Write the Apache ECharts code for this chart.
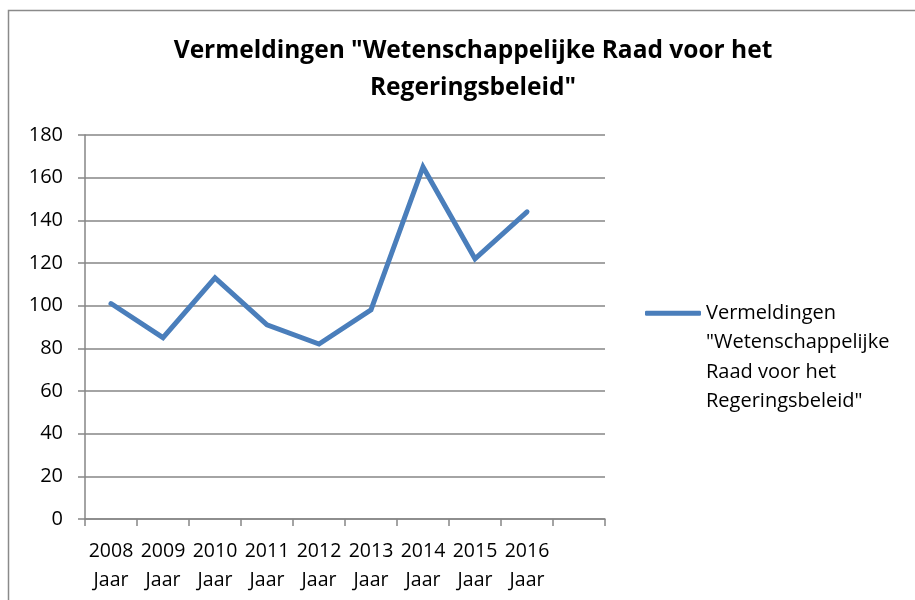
<!DOCTYPE html>
<html>
<head>
<meta charset="utf-8">
<script src="https://cdn.jsdelivr.net/npm/echarts@6/dist/echarts.min.js"></script>
<style>
  html, body { margin: 0; padding: 0; background: #fff; }
  #main { width: 915px; height: 600px; }
</style>
</head>
<body>
<div id="main"></div>
<script>
    var years = ['2008', '2009', '2010', '2011', '2012', '2013', '2014', '2015', '2016', ''];
    var vermeldingen = [101, 85, 113, 91, 82, 98, 165, 122, 144];
    var yTicks = { min: 0, max: 180, interval: 20 };
    var seriesName = 'Vermeldingen "Wetenschappelijke Raad voor het Regeringsbeleid"';

    var chart = echarts.init(document.getElementById('main'));
    var font = '"Open Sans", "Noto Sans", sans-serif';

    var option = {
        backgroundColor: '#fff',
        textStyle: { fontFamily: font },
        title: {
            text: 'Vermeldingen "Wetenschappelijke Raad voor het\nRegeringsbeleid"',
            left: 468,
            top: 28,
            textAlign: 'center',
            textStyle: { fontSize: 24.5, fontWeight: 'bold', color: '#000', lineHeight: 37, fontFamily: font }
        },
        graphic: [{
            type: 'rect',
            shape: { x: 8.5, y: 10.5, width: 940, height: 620 },
            style: { fill: 'none', stroke: '#8a8a8a', lineWidth: 1.5 },
            silent: true
        }],
        legend: {
            left: 640,
            top: 205,
            itemWidth: 56,
            itemHeight: 5,
            itemGap: 0,
            icon: 'roundRect',
            data: [seriesName],
            // leading blank lines keep the first text line level with the icon
            formatter: function () {
                return '\n\n\nVermeldingen\n"Wetenschappelijke\nRaad voor het\nRegeringsbeleid"';
            },
            textStyle: { fontSize: 20, color: '#000', lineHeight: 29.5, fontFamily: font }
        },
        grid: { left: 85, top: 135, right: 310, bottom: 81, containLabel: false },
        xAxis: {
            type: 'category',
            data: years,
            boundaryGap: true,
            axisLine: { lineStyle: { color: '#868686', width: 1.5 } },
            axisTick: { show: true, length: 7, lineStyle: { color: '#868686', width: 1.5 } },
            axisLabel: {
                color: '#000',
                fontSize: 19.5,
                lineHeight: 29,
                margin: 18,
                interval: 0,
                formatter: function (v) { return v ? v + '\nJaar' : ''; }
            },
            splitLine: { show: false }
        },
        yAxis: {
            type: 'value',
            min: yTicks.min,
            max: yTicks.max,
            interval: yTicks.interval,
            axisLine: { show: true, lineStyle: { color: '#868686', width: 1.5 } },
            axisTick: { show: true, length: 7, lineStyle: { color: '#868686', width: 1.5 } },
            axisLabel: { color: '#000', fontSize: 20, margin: 22 },
            splitLine: { lineStyle: { color: '#868686', width: 1.5 } }
        },
        series: [{
            name: seriesName,
            type: 'line',
            data: vermeldingen,
            symbol: 'none',
            lineStyle: { color: '#4a7ebb', width: 5, cap: 'round', join: 'miter' },
            itemStyle: { color: '#4a7ebb' },
            animation: false
        }]
    };

    chart.setOption(option);
</script>
</body>
</html>
